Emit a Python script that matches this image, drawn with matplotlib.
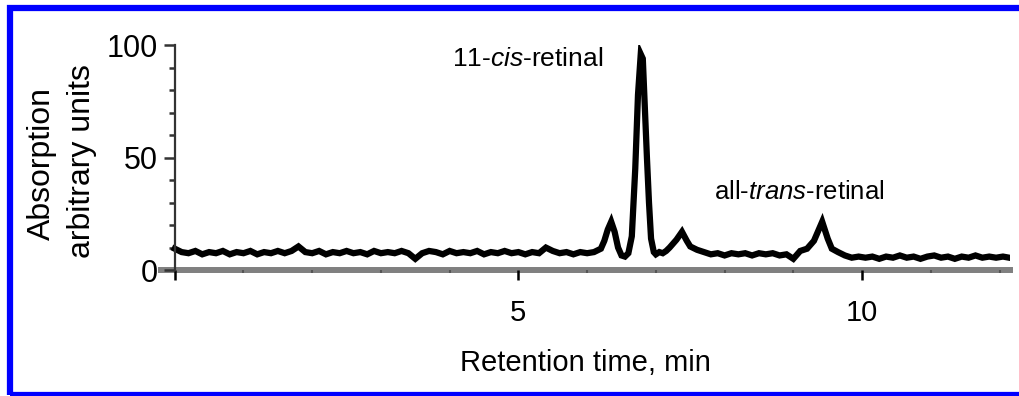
import matplotlib
matplotlib.use('Agg')
import matplotlib.pyplot as plt
from matplotlib.patches import Rectangle

# chromatogram trace (time in min, absorption a.u.)
time_min = [
    0.0, 0.1, 0.2, 0.3, 0.4, 0.5, 0.6, 0.7, 0.8, 0.9,
    1.0, 1.1, 1.2, 1.3, 1.4, 1.5, 1.6, 1.7, 1.8, 1.9,
    2.0, 2.1, 2.2, 2.3, 2.4, 2.5, 2.6, 2.7, 2.8, 2.9,
    3.0, 3.1, 3.2, 3.3, 3.4, 3.5, 3.6, 3.7, 3.8, 3.9,
    4.0, 4.1, 4.2, 4.3, 4.4, 4.5, 4.6, 4.7, 4.8, 4.9,
    5.0, 5.1, 5.2, 5.3, 5.4, 5.5, 5.6, 5.7, 5.8, 5.9,
    6.0, 6.1, 6.2, 6.25, 6.3, 6.35, 6.4, 6.45, 6.5, 6.55,
    6.6, 6.65, 6.7, 6.74, 6.78, 6.81, 6.84, 6.87, 6.9, 6.93,
    6.97, 7.0, 7.05, 7.1, 7.15, 7.2, 7.3, 7.38, 7.45, 7.5,
    7.6, 7.7, 7.8, 7.9, 8.0, 8.1, 8.2, 8.3, 8.4, 8.5,
    8.6, 8.7, 8.8, 8.9, 9.0, 9.1, 9.2, 9.3, 9.42, 9.5,
    9.56, 9.65, 9.75, 9.85, 9.95, 10.05, 10.15, 10.25, 10.35, 10.45,
    10.55, 10.65, 10.75, 10.85, 10.95, 11.05, 11.15, 11.25, 11.35, 11.45,
    11.55, 11.65, 11.75, 11.85, 11.95, 12.05, 12.14,
]
absorption = [
    9.5, 8.0, 7.5, 8.5, 7.0, 8.0, 7.5, 8.5, 7.0, 8.0,
    7.5, 8.5, 7.0, 8.0, 7.5, 8.5, 7.5, 8.5, 10.5, 8.0,
    7.5, 8.5, 7.0, 8.0, 7.5, 8.5, 7.5, 8.0, 7.0, 8.5,
    7.5, 8.0, 7.5, 8.5, 7.5, 5.0, 7.5, 8.5, 8.0, 7.0,
    8.5, 7.5, 8.0, 7.5, 8.5, 7.0, 8.0, 7.5, 8.5, 7.5,
    8.0, 7.0, 8.0, 7.5, 10.0, 8.5, 7.5, 8.0, 7.0, 8.0,
    7.5, 8.0, 9.5, 13.0, 18.0, 21.5, 17.0, 10.0, 6.5, 6.0,
    7.5, 15.0, 45.0, 78.0, 96.0, 94.0, 72.0, 50.0, 30.0, 14.0,
    8.0, 7.0, 8.0, 7.5, 8.5, 10.0, 13.5, 17.0, 13.0, 10.5,
    9.0, 8.0, 7.0, 7.5, 6.5, 7.5, 7.0, 7.5, 6.5, 7.5,
    7.0, 7.5, 6.5, 7.0, 5.0, 8.5, 9.5, 13.0, 21.5, 14.0,
    9.5, 8.0, 6.5, 5.5, 6.0, 5.5, 6.0, 5.0, 6.0, 5.5,
    6.5, 5.5, 6.0, 5.0, 6.0, 6.5, 5.5, 6.0, 5.0, 6.0,
    5.5, 6.5, 5.5, 6.0, 5.5, 6.0, 5.5,
]

x_major = [0, 5, 10]
x_major_labels = ['', '5', '10']
x_minor = [1, 2, 3, 4, 6, 7, 8, 9, 11, 12]
y_major = [0, 50, 100]
y_minor = [10, 20, 30, 40, 60, 70, 80, 90]

plt.rcParams['font.family'] = ['Liberation Sans', 'DejaVu Sans']
plt.rcParams['mathtext.fontset'] = 'custom'
plt.rcParams['mathtext.rm'] = 'Liberation Sans'
plt.rcParams['mathtext.it'] = 'Liberation Sans:italic'

fig = plt.figure(figsize=(10.19, 3.96), dpi=100)
ax = fig.add_axes([0.158, 0.318, 0.833, 0.568])

ax.plot(time_min, absorption, color='black', lw=4.5, solid_joinstyle='miter')

ax.set_xlim(-0.2, 12.15)
ax.set_ylim(0, 100)

ax.spines['top'].set_visible(False)
ax.spines['right'].set_visible(False)
ax.spines['left'].set_position(('data', 0))
ax.spines['left'].set_color('#333333')
ax.spines['left'].set_linewidth(1.6)
ax.spines['bottom'].set_color('#808080')
ax.spines['bottom'].set_linewidth(4.3)
ax.spines['bottom'].set_zorder(1)

ax.set_xticks(x_major)
ax.set_xticklabels(x_major_labels)
ax.set_xticks(x_minor, minor=True)
ax.set_yticks(y_major)
ax.set_yticks(y_minor, minor=True)

ax.tick_params(axis='x', which='major', length=7, width=1.8, color='black',
               labelsize=21, pad=14)
ax.tick_params(axis='x', which='minor', length=2.5, width=1.5, color='#555555')
ax.tick_params(axis='y', which='major', length=8, width=1.8, color='#333333',
               labelsize=22, pad=4)
ax.tick_params(axis='y', which='minor', length=4, width=1.8, color='#333333')

ax.set_xlabel('Retention time, min', fontsize=21, labelpad=16)

# two-line y title, placed line by line
fig.text(42 / 1019, 1 - 164 / 396, 'Absorption', fontsize=23, rotation=90,
         ha='center', va='center')
fig.text(82 / 1019, 1 - 161 / 396, 'arbitrary units', fontsize=23, rotation=90,
         ha='center', va='center')

ax.text(4.04, 94, r'11-$\mathit{cis}$-retinal', fontsize=19, va='center', ha='left')
ax.text(7.85, 34.7, r'all-$\mathit{trans}$-retinal', fontsize=18.5, va='center', ha='left')

# blue frame, cut off on the right as in the source picture
fig.patches.append(Rectangle((9.5 / 1019, 1.0 / 396), 1.02, 1 - 9.0 / 396,
                             transform=fig.transFigure, fill=False,
                             edgecolor='#0000ff', linewidth=4.5))

fig.savefig('out.png', dpi=100)
